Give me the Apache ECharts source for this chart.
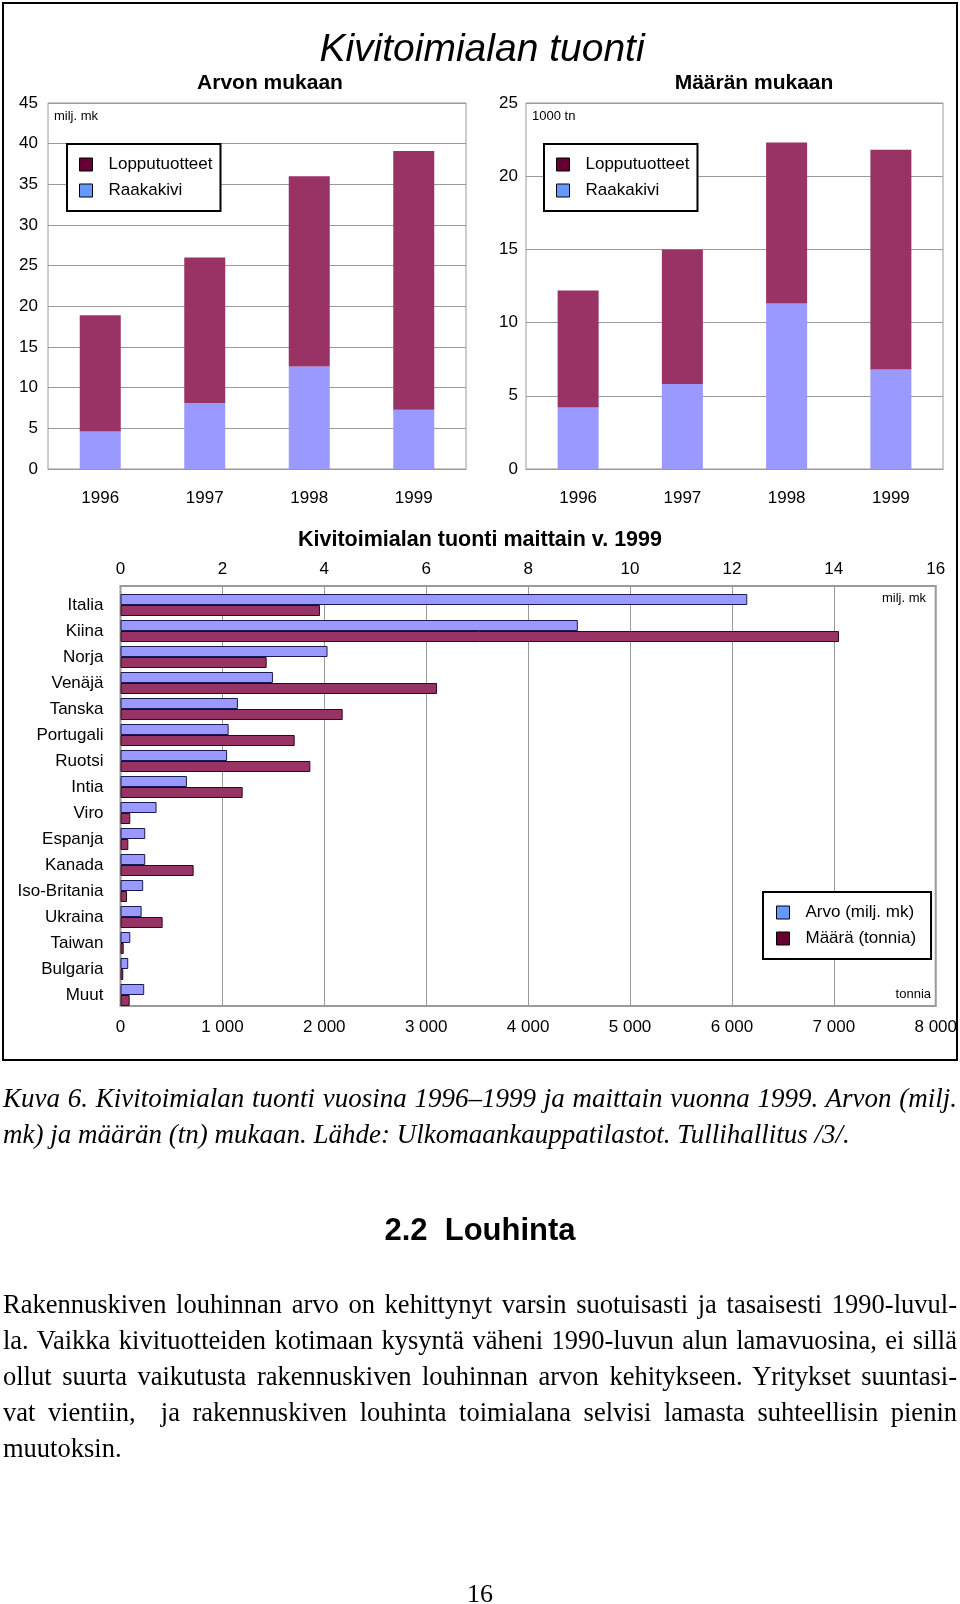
<!DOCTYPE html>
<html>
<head>
<meta charset="utf-8">
<script src="https://cdn.jsdelivr.net/npm/echarts@6.0.0/dist/echarts.min.js"></script>
<style>
  html, body { margin: 0; padding: 0; background: #fff; }
  #chart { position: absolute; left: 0; top: 0; width: 960px; height: 1604px; }
  .ln { position: absolute; left: 3px; width: 954px; height: 36px; line-height: 36px; white-space: nowrap;
        font-family: 'Liberation Serif', 'Times New Roman', serif; font-size: 26.5px; color: #000; }
  .cap { font-style: italic; font-size: 27px; }
  .jus { text-align: justify; text-align-last: justify; }
  .head { position: absolute; left: 0; width: 960px; text-align: center; font-family: 'Liberation Sans', Arial, sans-serif;
          font-weight: bold; font-size: 31px; line-height: 40px; color: #000; }
  .pg { position: absolute; left: 0; width: 960px; text-align: center; font-family: 'Liberation Serif', 'Times New Roman', serif;
        font-size: 26px; line-height: 36px; color: #000; }
</style>
</head>
<body>
<div id="chart"></div>

<div class="ln cap jus" style="top:1080px;">Kuva 6. Kivitoimialan tuonti vuosina 1996–1999 ja maittain vuonna 1999. Arvon (milj.</div>
<div class="ln cap" style="top:1116px;">mk) ja määrän (tn) mukaan. Lähde: Ulkomaankauppatilastot. Tullihallitus /3/.</div>

<div class="head" style="top:1210px;">2.2&nbsp;&nbsp;Louhinta</div>

<div class="ln jus" style="top:1286px;">Rakennuskiven louhinnan arvo on kehittynyt varsin suotuisasti ja tasaisesti 1990-luvul-</div>
<div class="ln jus" style="top:1322px;">la. Vaikka kivituotteiden kotimaan kysyntä väheni 1990-luvun alun lamavuosina, ei sillä</div>
<div class="ln jus" style="top:1358px;">ollut suurta vaikutusta rakennuskiven louhinnan arvon kehitykseen. Yritykset suuntasi-</div>
<div class="ln jus" style="top:1394px;">vat vientiin,&nbsp; ja rakennuskiven louhinta toimialana selvisi lamasta suhteellisin pienin</div>
<div class="ln" style="top:1430px;">muutoksin.</div>

<div class="pg" style="top:1576px;">16</div>

<script>
// ---- Data ----
const years = ['1996', '1997', '1998', '1999'];
// Arvon mukaan (milj. mk)
const arvoRaakakivi = [4.6, 8.1, 12.6, 7.3];
const arvoLopputuotteet = [14.3, 17.9, 23.4, 31.8];
// Määrän mukaan (1000 tn)
const maaraRaakakivi = [4.2, 5.8, 11.3, 6.8];
const maaraLopputuotteet = [8.0, 9.2, 11.0, 15.0];

// Maittain v. 1999
const countries = ['Italia', 'Kiina', 'Norja', 'Venäjä', 'Tanska', 'Portugali', 'Ruotsi', 'Intia',
  'Viro', 'Espanja', 'Kanada', 'Iso-Britania', 'Ukraina', 'Taiwan', 'Bulgaria', 'Muut'];
const arvo1999 = [12.17, 8.88, 4.02, 2.96, 2.28, 2.10, 2.07, 1.29, 0.70, 0.48, 0.48, 0.44, 0.41, 0.19, 0.15, 0.46];
const maara1999 = [1937, 6976, 1419, 3073, 2157, 1691, 1843, 1186, 95, 76, 710, 63, 409, 31, 27, 89];

// Tick labels
const tonniaTickLabels = ['0', '1 000', '2 000', '3 000', '4 000', '5 000', '6 000', '7 000', '8 000'];

// ---- Styles ----
const SANS = "'Liberation Sans', Arial, sans-serif";
const BLUE = '#9999ff';
const MAROON = '#993366';
const GRID = '#9a9a9a';
const lbl = { fontFamily: SANS, fontSize: 17, color: '#000' };

function txt(text, x, y, font, align) {
  return {
    type: 'text', x: x, y: y, z: 10,
    style: { text: text, font: font, fill: '#000',
      align: align || 'center', textAlign: align || 'center',
      verticalAlign: 'middle', textVerticalAlign: 'middle' }
  };
}

const legendBase = {
  orient: 'vertical', icon: 'rect', itemWidth: 13, itemHeight: 13, itemGap: 9,
  borderColor: '#000', borderWidth: 2, backgroundColor: '#fff', selectedMode: false,
  textStyle: { fontFamily: SANS, fontSize: 17, color: '#000', padding: [0, 0, 0, 11] }
};
const swatchLoppu = { color: '#660033', borderColor: '#000', borderWidth: 1 };
const swatchRaaka = { color: '#6699ff', borderColor: '#000', borderWidth: 1 };

const chart = echarts.init(document.getElementById('chart'), null, { renderer: 'canvas' });

const option = {
  animation: false,
  backgroundColor: '#fff',
  textStyle: { fontFamily: SANS },
  grid: [
    { left: 48, top: 103, width: 418, height: 366, show: true, borderColor: GRID, borderWidth: 1 },
    { left: 526, top: 103, width: 417, height: 366, show: true, borderColor: GRID, borderWidth: 1 },
    { left: 120.5, top: 586, width: 824, height: 420, show: true, borderColor: GRID, borderWidth: 2 },
    { left: 120.5, top: 592, width: 824, height: 416 }
  ],
  xAxis: [
    { gridIndex: 0, type: 'category', data: years, axisTick: { show: false },
      axisLine: { lineStyle: { color: GRID } }, axisLabel: Object.assign({ margin: 21 }, lbl) },
    { gridIndex: 1, type: 'category', data: years, axisTick: { show: false },
      axisLine: { lineStyle: { color: GRID } }, axisLabel: Object.assign({ margin: 21 }, lbl) },
    { gridIndex: 2, type: 'value', position: 'top', min: 0, max: 16, interval: 2,
      axisLine: { show: false }, axisTick: { show: false },
      splitLine: { show: true, lineStyle: { color: GRID, width: 1 } },
      axisLabel: Object.assign({ margin: 8 }, lbl) },
    { gridIndex: 2, type: 'value', position: 'bottom', min: 0, max: 8000, interval: 1000,
      axisLine: { show: false }, axisTick: { show: false }, splitLine: { show: false },
      axisLabel: Object.assign({ margin: 13, formatter: function (v) { return tonniaTickLabels[Math.round(v / 1000)]; } }, lbl) },
    { gridIndex: 3, type: 'value', position: 'top', min: 0, max: 16, show: false },
    { gridIndex: 3, type: 'value', position: 'bottom', min: 0, max: 8000, show: false }
  ],
  yAxis: [
    { gridIndex: 0, type: 'value', min: 0, max: 45, interval: 5,
      axisLine: { show: false }, axisTick: { show: false },
      splitLine: { lineStyle: { color: GRID } }, axisLabel: Object.assign({ margin: 10 }, lbl) },
    { gridIndex: 1, type: 'value', min: 0, max: 25, interval: 5,
      axisLine: { show: false }, axisTick: { show: false },
      splitLine: { lineStyle: { color: GRID } }, axisLabel: Object.assign({ margin: 8 }, lbl) },
    { gridIndex: 2, type: 'category', data: countries, show: false },
    { gridIndex: 3, type: 'category', data: countries, inverse: true,
      axisLine: { show: false }, axisTick: { show: false },
      axisLabel: Object.assign({ margin: 17 }, lbl) }
  ],
  legend: [
    Object.assign({}, legendBase, { left: 67, top: 144, padding: [12, 8, 12, 12],
      data: [{ name: 'Lopputuotteet', itemStyle: swatchLoppu }, { name: 'Raakakivi', itemStyle: swatchRaaka }] }),
    Object.assign({}, legendBase, { left: 544, top: 144, padding: [12, 8, 12, 12],
      data: [{ name: 'Lopputuotteet', itemStyle: swatchLoppu }, { name: 'Raakakivi', itemStyle: swatchRaaka }] }),
    Object.assign({}, legendBase, { left: 763, top: 892, padding: [12, 15, 12, 13],
      data: [{ name: 'Arvo (milj. mk)', itemStyle: swatchRaaka }, { name: 'Määrä (tonnia)', itemStyle: swatchLoppu }] })
  ],
  series: [
    { name: 'Raakakivi', type: 'bar', stack: 'arvo', xAxisIndex: 0, yAxisIndex: 0, barWidth: 41,
      itemStyle: { color: BLUE }, data: arvoRaakakivi },
    { name: 'Lopputuotteet', type: 'bar', stack: 'arvo', xAxisIndex: 0, yAxisIndex: 0, barWidth: 41,
      itemStyle: { color: MAROON }, data: arvoLopputuotteet },
    { name: 'Raakakivi', type: 'bar', stack: 'maara', xAxisIndex: 1, yAxisIndex: 1, barWidth: 41,
      itemStyle: { color: BLUE }, data: maaraRaakakivi },
    { name: 'Lopputuotteet', type: 'bar', stack: 'maara', xAxisIndex: 1, yAxisIndex: 1, barWidth: 41,
      itemStyle: { color: MAROON }, data: maaraLopputuotteet },
    { name: 'Arvo (milj. mk)', type: 'bar', xAxisIndex: 4, yAxisIndex: 3, barWidth: 11, barGap: '0%',
      itemStyle: { color: BLUE, borderColor: '#1a1a50', borderWidth: 1 }, data: arvo1999 },
    { name: 'Määrä (tonnia)', type: 'bar', xAxisIndex: 5, yAxisIndex: 3, barWidth: 11, barGap: '0%',
      itemStyle: { color: MAROON, borderColor: '#2a0a18', borderWidth: 1 }, data: maara1999 }
  ],
  graphic: [
    { type: 'rect', z: 0, shape: { x: 3, y: 3, width: 954, height: 1057 },
      style: { fill: 'none', stroke: '#000', lineWidth: 2 } },
    txt('Kivitoimialan tuonti', 482, 50, 'italic 39px ' + SANS),
    txt('Arvon mukaan', 270, 83, 'bold 21px ' + SANS),
    txt('Määrän mukaan', 754, 83, 'bold 21px ' + SANS),
    txt('milj. mk', 54, 116, '13px ' + SANS, 'left'),
    txt('1000 tn', 532, 116, '13px ' + SANS, 'left'),
    txt('Kivitoimialan tuonti maittain v. 1999', 480, 540, 'bold 21.5px ' + SANS),
    txt('milj. mk', 926, 598, '13px ' + SANS, 'right'),
    txt('tonnia', 931, 994, '13px ' + SANS, 'right')
  ]
};

chart.setOption(option);
</script>
</body>
</html>
